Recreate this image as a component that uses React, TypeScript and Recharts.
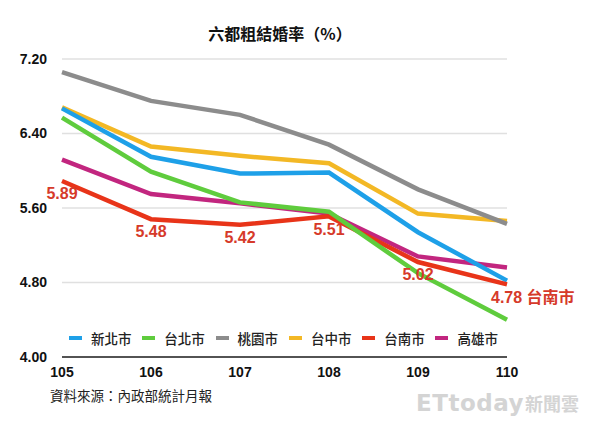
import { LineChart, Line, XAxis, YAxis, CartesianGrid, LabelList } from 'recharts';

const years = ['105', '106', '107', '108', '109', '110'];
const yTicks = [4, 4.8, 5.6, 6.4, 7.2];

const newTaipei = [6.67, 6.15, 5.97, 5.98, 5.34, 4.82];
const taipei = [6.57, 5.99, 5.66, 5.56, 4.9, 4.4];
const taoyuan = [7.06, 6.75, 6.6, 6.28, 5.8, 5.43];
const taichung = [6.68, 6.26, 6.16, 6.08, 5.54, 5.46];
const tainan = [5.89, 5.48, 5.42, 5.51, 5.02, 4.78];
const kaohsiung = [6.12, 5.75, 5.65, 5.54, 5.08, 4.96];

// legend order
const cities = [
  { key: 'newTaipei', name: '新北市', color: '#1ea0e8', values: newTaipei },
  { key: 'taipei', name: '台北市', color: '#5fcc3d', values: taipei },
  { key: 'taoyuan', name: '桃園市', color: '#8c8c8c', values: taoyuan },
  { key: 'taichung', name: '台中市', color: '#f3b825', values: taichung },
  { key: 'tainan', name: '台南市', color: '#e83419', values: tainan },
  { key: 'kaohsiung', name: '高雄市', color: '#c2267f', values: kaohsiung },
];

// bottom -> top
const drawOrder = ['kaohsiung', 'taichung', 'taoyuan', 'newTaipei', 'tainan', 'taipei'];

const data = years.map((year, i) => {
  const row: Record<string, string | number> = { year };
  cities.forEach(c => {
    row[c.key] = c.values[i];
  });
  return row;
});

const FONT = '"Liberation Sans", Arial, "Noto Sans CJK TC", sans-serif';
const CJK = '"Noto Sans CJK TC", "Liberation Sans", sans-serif';
const LABEL_RED = '#d63a2a';

function TainanLabel(props: any) {
  const { x, y, value, index } = props;
  const last = index === years.length - 1;
  const text = Number(value).toFixed(2);
  return (
    <text
      x={last ? x - 16 : x}
      y={y + 14}
      textAnchor={last ? 'start' : 'middle'}
      dominantBaseline="middle"
      fill={LABEL_RED}
      fontSize={16}
      fontWeight="bold"
      fontFamily={FONT}
    >
      {last ? `${text} 台南市` : text}
    </text>
  );
}

export default function App() {
  const tick = { fontSize: 14, fontWeight: 'bold', fill: '#111', fontFamily: FONT };
  return (
    <div style={{ position: 'absolute', left: 0, top: 0, width: 600, height: 427, background: '#fff', fontFamily: CJK }}>
      <div style={{ position: 'absolute', left: 180, width: 200, top: 22, textAlign: 'center', fontSize: 16, fontWeight: 'bold', color: '#111', lineHeight: '22px' }}>
        六都粗結婚率（%）
      </div>
      <LineChart width={600} height={427} data={data} margin={{ top: 59, right: 93, bottom: 40, left: 0 }}>
        <CartesianGrid vertical={false} stroke="#e0e0e0" strokeWidth={1.5} />
        <XAxis
          dataKey="year"
          height={30}
          tickLine={false}
          tickSize={0}
          tickMargin={10}
          axisLine={{ stroke: '#222', strokeWidth: 1.5 }}
          tick={tick}
        />
        <YAxis
          width={62}
          domain={[4, 7.2]}
          ticks={yTicks}
          axisLine={false}
          tickLine={false}
          tickSize={0}
          tickMargin={15}
          tick={tick}
          tickFormatter={(v: number) => v.toFixed(2)}
        />
        {drawOrder.map(k => {
          const c = cities.find(city => city.key === k)!;
          return (
            <Line
              key={k}
              type="linear"
              dataKey={k}
              stroke={c.color}
              strokeWidth={4.5}
              dot={false}
              activeDot={false}
              isAnimationActive={false}
            />
          );
        })}
        {/* labels drawn last so they sit on top of every line */}
        <Line dataKey="tainan" stroke="none" dot={false} activeDot={false} isAnimationActive={false}>
          <LabelList dataKey="tainan" content={TainanLabel} />
        </Line>
      </LineChart>
      <div style={{ position: 'absolute', left: 69, top: 329, display: 'flex', alignItems: 'center', height: 18 }}>
        {cities.map(c => (
          <div key={c.key} style={{ display: 'flex', alignItems: 'center', width: 73.3 }}>
            <span style={{ display: 'inline-block', width: 13, height: 3.5, background: c.color, marginRight: 9 }} />
            <span style={{ fontSize: 13.5, color: '#222', fontWeight: 500, lineHeight: '18px' }}>{c.name}</span>
          </div>
        ))}
      </div>
      <div style={{ position: 'absolute', left: 50, top: 386, fontSize: 13.5, color: '#222', lineHeight: '18px' }}>
        資料來源：內政部統計月報
      </div>
      <div style={{ position: 'absolute', left: 416, top: 389, display: 'flex', alignItems: 'baseline', color: '#d4d4d4', lineHeight: '28px' }}>
        <span style={{ fontFamily: '"DejaVu Sans", sans-serif', fontSize: 23, fontWeight: 'bold', letterSpacing: 0.5 }}>ETtoday</span>
        <span style={{ fontSize: 18, fontWeight: 'bold', marginLeft: 1 }}>新聞雲</span>
      </div>
    </div>
  );
}
